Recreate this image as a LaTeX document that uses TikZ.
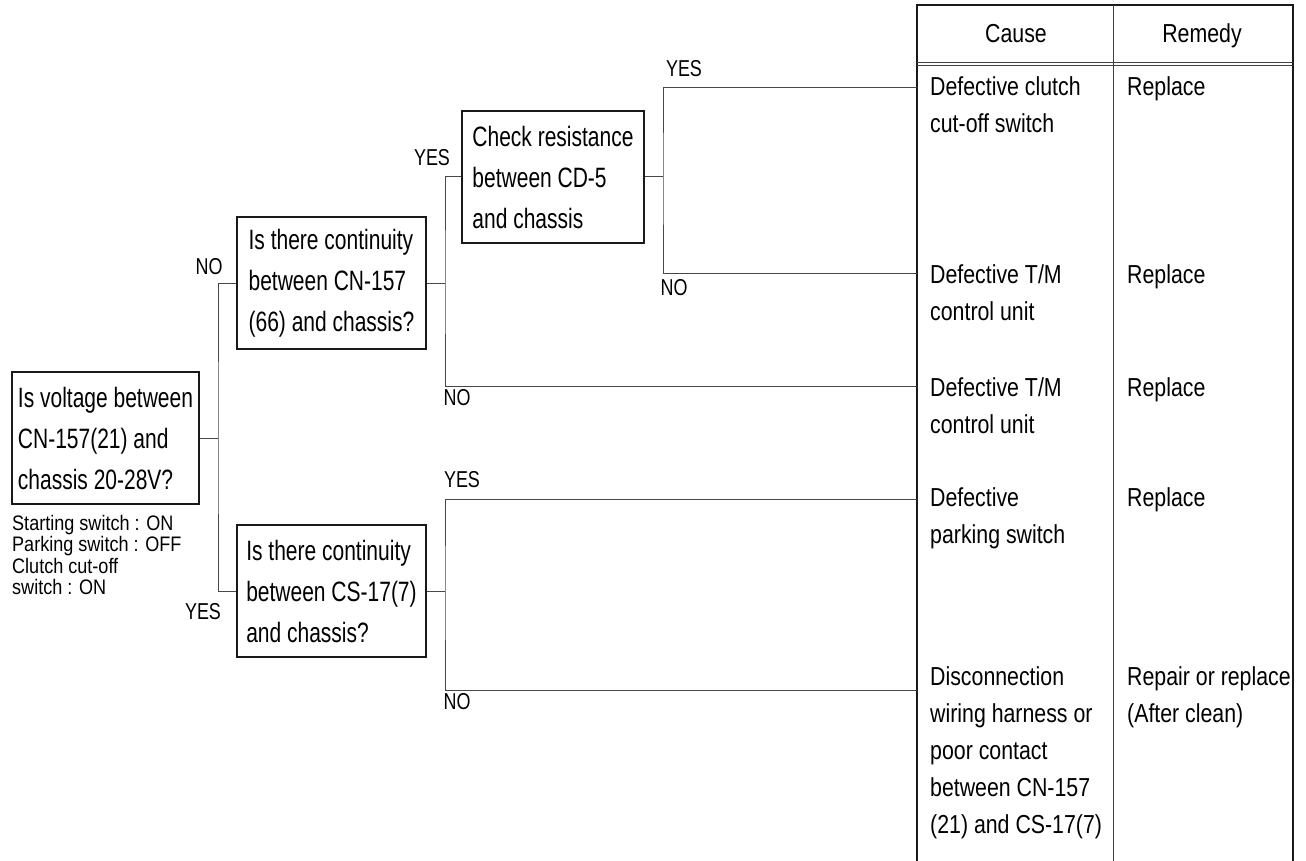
\documentclass[tikz,border=0pt]{standalone}
\usepackage{fontspec}
\setmainfont{Liberation Sans}
\newfontfamily\boxfont[FakeStretch=0.75]{Liberation Sans}
\newfontfamily\tabfont[FakeStretch=0.82]{Liberation Sans}
\newfontfamily\labfont[FakeStretch=0.78]{Liberation Sans}
\newfontfamily\notefont[FakeStretch=0.86]{Liberation Sans}
\begin{document}
\begin{tikzpicture}[x=1pt,y=-1pt,
  qbox/.style={draw=black!90, line width=1.4pt, minimum height=132pt, inner xsep=4pt, inner ysep=0pt, align=left, font=\boxfont\fontsize{28}{41}\selectfont},
  lbl/.style={font=\labfont\fontsize{23}{23}\selectfont, inner sep=0pt},
  tabtxt/.style={font=\tabfont\fontsize{26}{37}\selectfont, align=left, inner sep=0pt, anchor=base west},
  hdr/.style={font=\tabfont\fontsize{26}{37}\selectfont, inner sep=0pt, anchor=base},
  notetxt/.style={font=\notefont\fontsize{21}{21.5}\selectfont, align=left, inner sep=0pt, anchor=base west},
  conn/.style={line width=1pt, draw=black!72},
  tabline/.style={line width=1.4pt, draw=black!90},
  thinline/.style={line width=0.9pt, draw=black!75}]
\useasboundingbox (0,0) rectangle (1306,861);

% question boxes
\node[qbox, minimum width=187pt] (b0) at (105.5,438) {Is voltage between\\CN-157(21) and\\chassis 20-28V?};
\node[qbox, minimum width=189pt] (b1) at (331.5,283) {Is there continuity\\between CN-157\\(66) and chassis?};
\node[qbox, minimum width=182pt] (b2) at (553,177) {Check resistance\\between CD-5\\and chassis};
\node[qbox, minimum width=189pt] (b3) at (331.5,591) {Is there continuity\\between CS-17(7)\\and chassis?};

% condition note (anchor = baseline of last line)
\node[notetxt] (note) at (12,594.5) {Starting switch : ON\\Parking switch : OFF\\Clutch cut-off\\switch : ON};

% table frame
\draw[tabline] (917,861) -- (917,5) -- (1293,5) -- (1293,861);
\draw[thinline] (1113,5) -- (1113,861);
\draw[thinline] (917,62) -- (1293,62);
\draw[thinline] (917,65.5) -- (1293,65.5);
\node[hdr] (hc) at (1016,43) {Cause};
\node[hdr] (hr) at (1202,43) {Remedy};

% table row anchor points
\coordinate (t1) at (917,88);
\coordinate (t2) at (917,273);
\coordinate (t3) at (917,386);
\coordinate (t4) at (917,499);
\coordinate (t5) at (917,690);

% causes (anchor = baseline of last line)
\node[tabtxt] (c1) at (930,133) {Defective clutch\\cut-off switch};
\node[tabtxt] (c2) at (930,320) {Defective T/M\\control unit};
\node[tabtxt] (c3) at (930,433) {Defective T/M\\control unit};
\node[tabtxt] (c4) at (930,543) {Defective\\parking switch};
\node[tabtxt] (c5) at (930,833) {Disconnection\\wiring harness or\\poor contact\\between CN-157\\(21) and CS-17(7)};
% remedies
\node[tabtxt] (r1) at (1127,96) {Replace};
\node[tabtxt] (r2) at (1127,283) {Replace};
\node[tabtxt] (r3) at (1127,396) {Replace};
\node[tabtxt] (r4) at (1127,506) {Replace};
\node[tabtxt] (r5) at (1127,722) {Repair or replace\\(After clean)};

% junctions
\coordinate (j0) at (218,438);
\coordinate (j1) at (445,283);
\coordinate (j2) at (663,177);
\coordinate (j3) at (445,591);

% connectors
\draw[conn] (b0.east) -- (j0);
\draw[conn] (b1.west) -| (j0) |- (b3.west);
\draw[conn] (b1.east) -- (j1);
\draw[conn] (b2.west) -| (j1) |- (t3);
\draw[conn] (b2.east) -- (j2);
\draw[conn] (t1) -| (j2) |- (t2);
\draw[conn] (b3.east) -- (j3);
\draw[conn] (t4) -| (j3) |- (t5);

% branch labels
\node[lbl] (l1) at (209,267) {NO};
\node[lbl] (l2) at (203,612) {YES};
\node[lbl] (l3) at (432,158) {YES};
\node[lbl] (l4) at (457,398) {NO};
\node[lbl] (l5) at (684,69) {YES};
\node[lbl] (l6) at (674,288) {NO};
\node[lbl] (l7) at (462,480) {YES};
\node[lbl] (l8) at (457,702) {NO};
\end{tikzpicture}
\end{document}
